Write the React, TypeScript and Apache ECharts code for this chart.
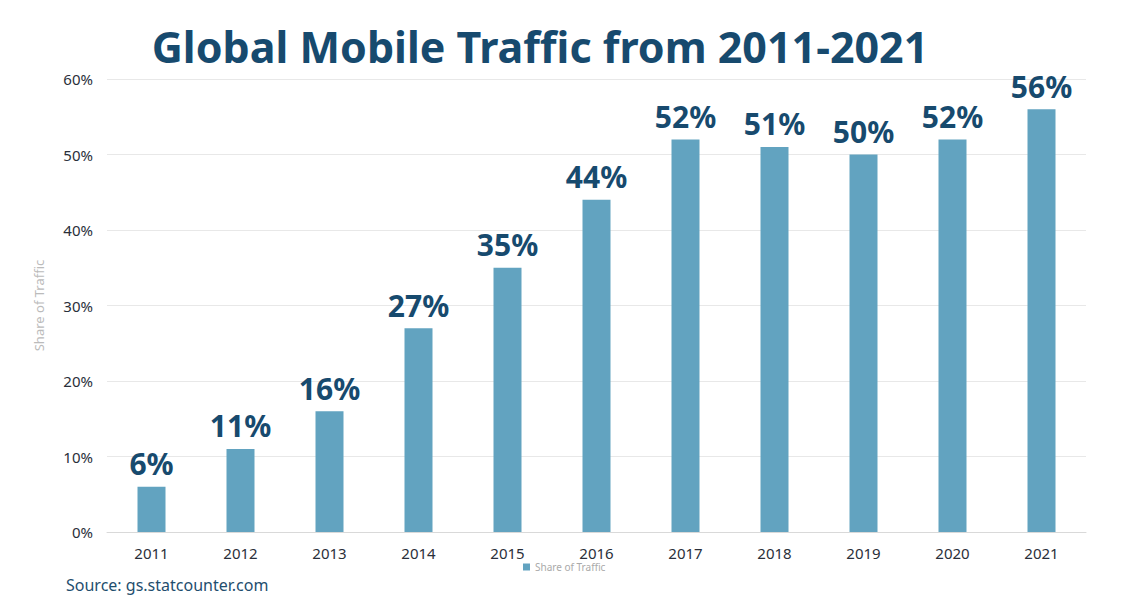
import React, { useEffect, useRef } from "react";
import * as echarts from "echarts";

const years = ["2011", "2012", "2013", "2014", "2015", "2016", "2017", "2018", "2019", "2020", "2021"];
const share = [6, 11, 16, 27, 35, 44, 52, 51, 50, 52, 56];
const titleText = "Global Mobile Traffic from 2011-2021";
const sourceText = "Source: gs.statcounter.com";
const seriesName = "Share of Traffic";

export default function App() {
  const ref = useRef<HTMLDivElement>(null);
  useEffect(() => {
    if (!ref.current) return;
    const chart = echarts.init(ref.current, null, { renderer: "svg" });
    const font = "'Noto Sans', 'Open Sans', sans-serif";
    chart.setOption({
      animation: false,
      backgroundColor: "#ffffff",
      textStyle: { fontFamily: font },
      title: {
        text: titleText,
        left: 535,
        textAlign: "center",
        top: 20,
        textStyle: { fontSize: 43, fontWeight: "bold", color: "#174a6e", fontFamily: font },
      },
      legend: {
        data: [seriesName],
        bottom: 30,
        left: 518,
        itemWidth: 7,
        itemHeight: 7,
        itemGap: 4,
        icon: "rect",
        textStyle: { fontSize: 10, color: "#aaaaaa", fontFamily: font },
      },
      graphic: [
        {
          type: "text",
          left: 66,
          top: 577,
          style: { text: sourceText, fontSize: 16, fill: "#1f4e6e", fontFamily: font },
        },
      ],
      grid: { left: 107, right: 51, top: 79, bottom: 75, containLabel: false },
      xAxis: {
        type: "category",
        data: years,
        axisTick: { show: false },
        axisLine: { lineStyle: { color: "#d9d9d9" } },
        axisLabel: { fontSize: 15, color: "#2a2f3a", margin: 13, fontFamily: font },
      },
      yAxis: {
        type: "value",
        min: 0,
        max: 60,
        interval: 10,
        name: seriesName,
        nameLocation: "middle",
        nameGap: 62,
        nameTextStyle: { fontSize: 13, color: "#bbbbbb", fontFamily: font },
        axisLabel: { formatter: "{value}%", fontSize: 15, color: "#2a2f3a", margin: 14, fontFamily: font },
        splitLine: { lineStyle: { color: "#e8e8e8" } },
      },
      series: [
        {
          name: seriesName,
          type: "bar",
          data: share,
          barWidth: 28,
          itemStyle: { color: "#62a3c0" },
          label: {
            show: true,
            position: "top",
            formatter: "{c}%",
            fontSize: 30,
            fontWeight: "bold",
            color: "#174a6e",
            distance: 8,
            fontFamily: font,
          },
        },
      ],
    });
    return () => chart.dispose();
  }, []);
  return <div ref={ref} style={{ position: "fixed", left: 0, top: 0, width: 1137, height: 607 }} />;
}
